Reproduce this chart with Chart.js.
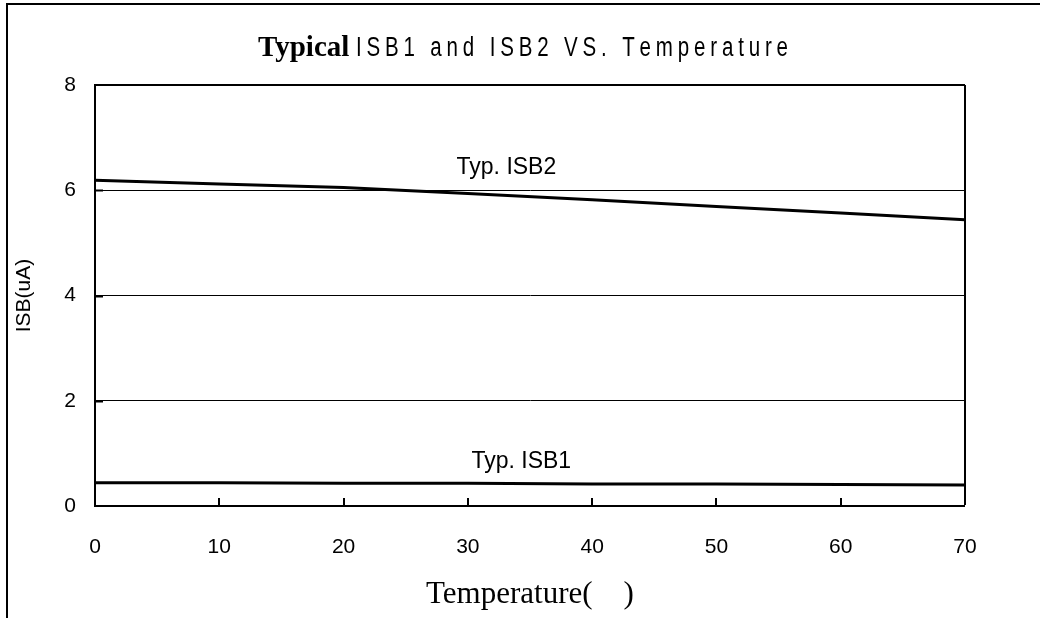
<!DOCTYPE html>
<html>
<head>
<meta charset="utf-8">
<script src="https://cdn.jsdelivr.net/npm/chart.js@4.4.0/dist/chart.umd.min.js"></script>
<style>
  html, body { margin: 0; padding: 0; background: #fff; }
  canvas { display: block; }
</style>
</head>
<body>
<canvas id="isbChart" width="1040" height="618"></canvas>
<script>
// data
const temperatures = [0, 10, 20, 30, 40, 50, 60, 70];
const isb2Values = [6.19, 6.12, 6.05, 5.94, 5.82, 5.69, 5.57, 5.44];
const isb1Values = [0.44, 0.44, 0.43, 0.43, 0.42, 0.42, 0.41, 0.40];
const yTicks = [0, 2, 4, 6, 8];
const xTicks = [0, 10, 20, 30, 40, 50, 60, 70];

const SANS = '"Liberation Sans", Arial, sans-serif';
const SERIF = '"Liberation Serif", "Times New Roman", serif';

Chart.defaults.font.family = SANS;
Chart.defaults.font.size = 21;
Chart.defaults.color = '#000';

// text labels placed in data coordinates
const seriesLabels = [
  { text: 'Typ. ISB2', x: 33.1, y: 6.43 },
  { text: 'Typ. ISB1', x: 34.3, y: 0.84 }
];

const toPoints = (xs, ys) => xs.map((x, i) => ({ x: x, y: ys[i] }));

const decorPlugin = {
  id: 'decor',
  beforeDraw(chart) {
    const ctx = chart.ctx;
    ctx.save();
    ctx.fillStyle = '#fff';
    ctx.fillRect(0, 0, chart.width, chart.height);
    // outer frame (runs off the right and bottom edges)
    ctx.strokeStyle = '#000';
    ctx.lineWidth = 2;
    ctx.beginPath();
    ctx.moveTo(7, chart.height + 5);
    ctx.lineTo(7, 4);
    ctx.lineTo(chart.width + 5, 4);
    ctx.stroke();
    ctx.restore();
  },
  afterDraw(chart) {
    const ctx = chart.ctx;
    const xs = chart.scales.x, ys = chart.scales.y;
    const area = chart.chartArea;
    ctx.save();

    // inner tick marks
    ctx.strokeStyle = '#000';
    ctx.lineWidth = 2;
    xTicks.slice(1, -1).forEach(v => {
      const px = Math.round(xs.getPixelForValue(v));
      ctx.beginPath();
      ctx.moveTo(px, area.bottom);
      ctx.lineTo(px, area.bottom - 8);
      ctx.stroke();
    });
    yTicks.slice(1, -1).forEach(v => {
      const py = Math.round(ys.getPixelForValue(v)) + 0.5;
      ctx.beginPath();
      ctx.moveTo(area.left, py);
      ctx.lineTo(area.left + 8, py);
      ctx.stroke();
    });

    // series labels
    ctx.fillStyle = '#000';
    ctx.font = '23px ' + SANS;
    ctx.textAlign = 'center';
    ctx.textBaseline = 'middle';
    seriesLabels.forEach(l => {
      ctx.fillText(l.text, xs.getPixelForValue(l.x), ys.getPixelForValue(l.y));
    });

    // title: bold serif word + condensed spaced sans text
    ctx.textAlign = 'left';
    ctx.textBaseline = 'alphabetic';
    ctx.font = 'bold 29px ' + SERIF;
    ctx.fillText('Typical', 258, 56);

    const rest = 'ISB1 and ISB2 VS. Temperature';
    const startX = 356, endX = 788, squeeze = 0.76;
    ctx.font = '27px ' + SANS;
    const widths = rest.split('').map(ch => ctx.measureText(ch).width * squeeze);
    const total = widths.reduce((a, b) => a + b, 0);
    const gap = (endX - startX - total) / (rest.length - 1);
    let cx = startX;
    rest.split('').forEach((ch, i) => {
      ctx.save();
      ctx.translate(cx, 56);
      ctx.scale(squeeze, 1);
      ctx.fillText(ch, 0, 0);
      ctx.restore();
      cx += widths[i] + gap;
    });

    ctx.restore();
  }
};

const ctx = document.getElementById('isbChart').getContext('2d');
const isbChart = new Chart(ctx, {
  type: 'line',
  data: {
    datasets: [
      {
        label: 'Typ. ISB2',
        data: toPoints(temperatures, isb2Values),
        borderColor: '#000',
        borderWidth: 3,
        pointRadius: 0,
        fill: false,
        tension: 0
      },
      {
        label: 'Typ. ISB1',
        data: toPoints(temperatures, isb1Values),
        borderColor: '#000',
        borderWidth: 3,
        pointRadius: 0,
        fill: false,
        tension: 0
      }
    ]
  },
  options: {
    responsive: false,
    animation: false,
    layout: {
      padding: { left: 7, top: 85, right: 75, bottom: 0 }
    },
    plugins: {
      legend: { display: false },
      title: { display: false },
      tooltip: { enabled: false }
    },
    scales: {
      x: {
        type: 'linear',
        min: 0,
        max: 70,
        afterBuildTicks: scale => {
          scale.ticks = xTicks.map(v => ({ value: v }));
        },
        afterFit: scale => { scale.height = 112; },
        ticks: {
          color: '#000',
          padding: 29,
          maxRotation: 0,
          font: { size: 21 }
        },
        grid: {
          drawTicks: false,
          color: c => (c.tick && c.tick.value === 70 ? '#000' : 'rgba(0,0,0,0)'),
          lineWidth: c => (c.tick && c.tick.value === 70 ? 2 : 0)
        },
        border: { color: '#000', width: 2 },
        title: {
          display: true,
          text: 'Temperature(    )',
          color: '#000',
          font: { family: SERIF, size: 31 },
          padding: { top: 0, bottom: 5 }
        }
      },
      y: {
        min: 0,
        max: 8,
        afterBuildTicks: scale => {
          scale.ticks = yTicks.map(v => ({ value: v }));
        },
        afterFit: scale => { scale.width = 88; },
        ticks: {
          color: '#000',
          padding: 19,
          font: { size: 21 }
        },
        grid: {
          drawTicks: false,
          color: '#000',
          lineWidth: c => (c.tick && c.tick.value === 8 ? 2 : 1)
        },
        border: { color: '#000', width: 2 },
        title: {
          display: true,
          text: 'ISB(uA)',
          color: '#000',
          font: { family: SANS, size: 21 },
          padding: { top: 5, bottom: 0 }
        }
      }
    }
  },
  plugins: [decorPlugin]
});
</script>
</body>
</html>
